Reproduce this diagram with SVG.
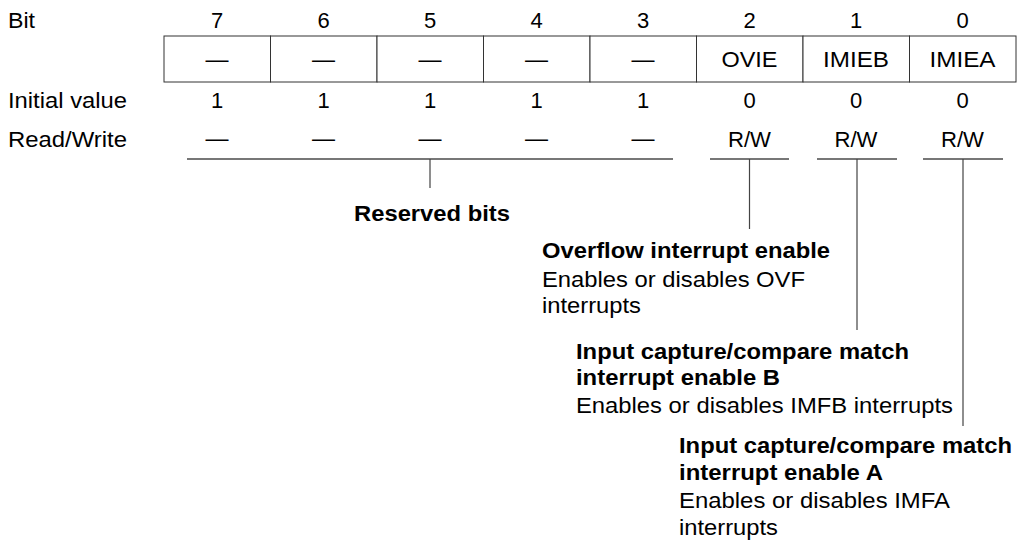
<svg xmlns="http://www.w3.org/2000/svg" width="1022" height="541" viewBox="0 0 1022 541">
<style>
text{font-family:"Liberation Sans",Arial,sans-serif;font-size:22px;fill:#000}
.c{text-anchor:middle}
.b{font-weight:bold}
.cell{fill:#fff;stroke:#333;stroke-width:1}
.h{stroke:#777;stroke-width:2;fill:none}
.v{stroke:#444;stroke-width:1.2;fill:none}
</style>
<rect width="1022" height="541" fill="#fff"/>
<g id="row-labels">
<text x="8" y="28" textLength="27" lengthAdjust="spacingAndGlyphs">Bit</text>
<text x="8" y="108" textLength="119" lengthAdjust="spacingAndGlyphs">Initial value</text>
<text x="8" y="147" textLength="119" lengthAdjust="spacingAndGlyphs">Read/Write</text>
</g>
<g id="bit7">
<text class="c" x="217" y="28">7</text>
<rect class="cell" x="164" y="36" width="106.5" height="46"/>
<text class="c" x="217" y="67" textLength="23" lengthAdjust="spacingAndGlyphs">—</text>
<text class="c" x="217" y="108">1</text>
<text class="c" x="217" y="146" textLength="23" lengthAdjust="spacingAndGlyphs">—</text>
</g>
<g id="bit6">
<text class="c" x="323.5" y="28">6</text>
<rect class="cell" x="270.5" y="36" width="106.5" height="46"/>
<text class="c" x="323.5" y="67" textLength="23" lengthAdjust="spacingAndGlyphs">—</text>
<text class="c" x="323.5" y="108">1</text>
<text class="c" x="323.5" y="146" textLength="23" lengthAdjust="spacingAndGlyphs">—</text>
</g>
<g id="bit5">
<text class="c" x="430" y="28">5</text>
<rect class="cell" x="377" y="36" width="106.5" height="46"/>
<text class="c" x="430" y="67" textLength="23" lengthAdjust="spacingAndGlyphs">—</text>
<text class="c" x="430" y="108">1</text>
<text class="c" x="430" y="146" textLength="23" lengthAdjust="spacingAndGlyphs">—</text>
</g>
<g id="bit4">
<text class="c" x="536.5" y="28">4</text>
<rect class="cell" x="483.5" y="36" width="106.5" height="46"/>
<text class="c" x="536.5" y="67" textLength="23" lengthAdjust="spacingAndGlyphs">—</text>
<text class="c" x="536.5" y="108">1</text>
<text class="c" x="536.5" y="146" textLength="23" lengthAdjust="spacingAndGlyphs">—</text>
</g>
<g id="bit3">
<text class="c" x="643" y="28">3</text>
<rect class="cell" x="590" y="36" width="106.5" height="46"/>
<text class="c" x="643" y="67" textLength="23" lengthAdjust="spacingAndGlyphs">—</text>
<text class="c" x="643" y="108">1</text>
<text class="c" x="643" y="146" textLength="23" lengthAdjust="spacingAndGlyphs">—</text>
</g>
<g id="bit2">
<text class="c" x="749.5" y="28">2</text>
<rect class="cell" x="696.5" y="36" width="106.5" height="46"/>
<text class="c" x="749.5" y="67" textLength="56" lengthAdjust="spacingAndGlyphs">OVIE</text>
<text class="c" x="749.5" y="108">0</text>
<text class="c" x="749.5" y="147" textLength="43" lengthAdjust="spacingAndGlyphs">R/W</text>
</g>
<g id="bit1">
<text class="c" x="856" y="28">1</text>
<rect class="cell" x="803" y="36" width="106.5" height="46"/>
<text class="c" x="856" y="67" textLength="66" lengthAdjust="spacingAndGlyphs">IMIEB</text>
<text class="c" x="856" y="108">0</text>
<text class="c" x="856" y="147" textLength="43" lengthAdjust="spacingAndGlyphs">R/W</text>
</g>
<g id="bit0">
<text class="c" x="962.5" y="28">0</text>
<rect class="cell" x="909.5" y="36" width="106.5" height="46"/>
<text class="c" x="962.5" y="67" textLength="66" lengthAdjust="spacingAndGlyphs">IMIEA</text>
<text class="c" x="962.5" y="108">0</text>
<text class="c" x="962.5" y="147" textLength="43" lengthAdjust="spacingAndGlyphs">R/W</text>
</g>
<g id="connectors">
<path class="h" d="M187 159H673M710 159H789M817 159H897M923 159H1003"/>
<path class="v" d="M430 159V188M749.5 159V229M857 159V330M963 159V426"/>
</g>
<g id="desc-reserved">
<text class="c b" x="432" y="221" textLength="156" lengthAdjust="spacingAndGlyphs">Reserved bits</text>
</g>
<g id="desc-ovie">
<text class="b" x="542" y="258" textLength="288" lengthAdjust="spacingAndGlyphs">Overflow interrupt enable</text>
<text x="542" y="287" textLength="263" lengthAdjust="spacingAndGlyphs">Enables or disables OVF</text>
<text x="542" y="313" textLength="99" lengthAdjust="spacingAndGlyphs">interrupts</text>
</g>
<g id="desc-imieb">
<text class="b" x="576" y="359" textLength="333" lengthAdjust="spacingAndGlyphs">Input capture/compare match</text>
<text class="b" x="576" y="385" textLength="204" lengthAdjust="spacingAndGlyphs">interrupt enable B</text>
<text x="576" y="413" textLength="377" lengthAdjust="spacingAndGlyphs">Enables or disables IMFB interrupts</text>
</g>
<g id="desc-imiea">
<text class="b" x="679" y="453" textLength="333" lengthAdjust="spacingAndGlyphs">Input capture/compare match</text>
<text class="b" x="679" y="480" textLength="204" lengthAdjust="spacingAndGlyphs">interrupt enable A</text>
<text x="679" y="508" textLength="271" lengthAdjust="spacingAndGlyphs">Enables or disables IMFA</text>
<text x="679" y="535" textLength="99" lengthAdjust="spacingAndGlyphs">interrupts</text>
</g>
</svg>
